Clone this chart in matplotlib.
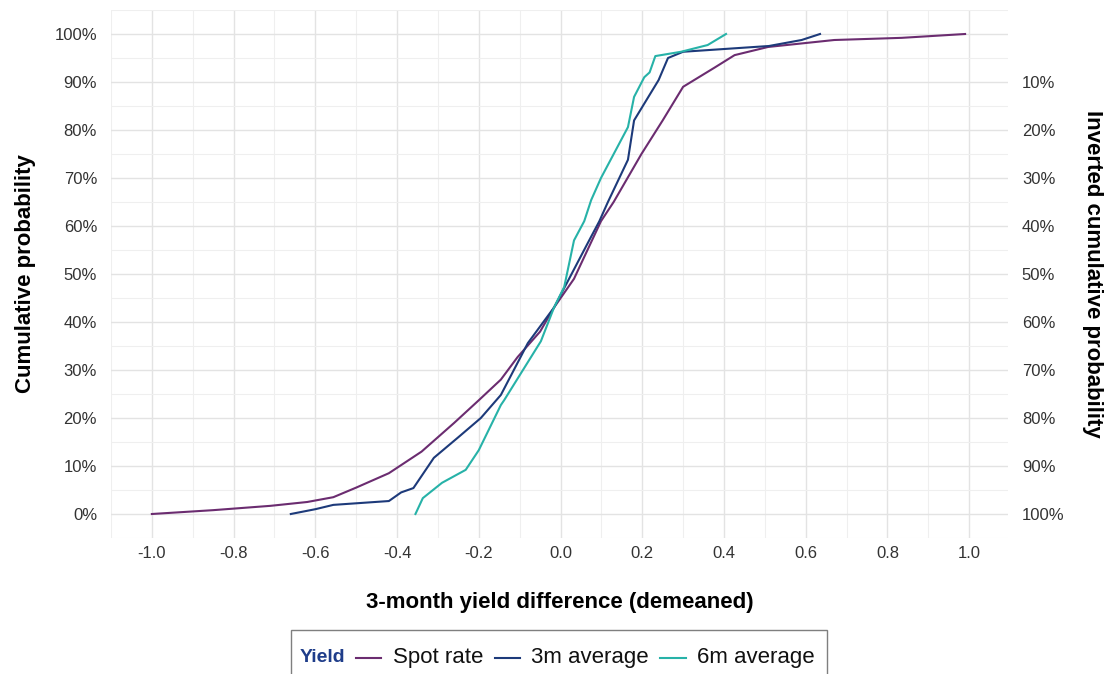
import matplotlib
matplotlib.use("Agg")
import matplotlib.pyplot as plt
from matplotlib.ticker import MultipleLocator, FixedLocator
from matplotlib.lines import Line2D
from matplotlib.patches import Rectangle

# ---- data ----
spot_x = [-1.0, -0.85, -0.71, -0.62, -0.556, -0.5, -0.42, -0.34, -0.26, -0.2,
          -0.146, -0.105, -0.05, -0.016, 0.033, 0.099, 0.13, 0.198, 0.25, 0.30,
          0.377, 0.426, 0.508, 0.67, 0.835, 0.99]
spot_y = [0, 0.8, 1.7, 2.5, 3.5, 5.5, 8.5, 13, 19, 23.7,
          28, 32.7, 38, 43, 49, 61, 65, 75, 82, 89,
          93, 95.6, 97.3, 98.75, 99.2, 100]

m3_x = [-0.66, -0.6, -0.556, -0.42, -0.39, -0.36, -0.31, -0.25, -0.195, -0.146,
        -0.08, -0.016, 0.067, 0.095, 0.116, 0.165, 0.18, 0.24, 0.263, 0.30,
        0.51, 0.59, 0.635]
m3_y = [0, 1.0, 1.9, 2.7, 4.5, 5.4, 11.7, 16, 20, 24.8,
        35.6, 43, 56.5, 61, 65, 73.8, 82, 90.4, 95, 96.3,
        97.5, 98.75, 100]

m6_x = [-0.355, -0.337, -0.29, -0.232, -0.2, -0.146, -0.138, -0.048, -0.016, 0.009,
        0.033, 0.058, 0.075, 0.099, 0.165, 0.18, 0.205, 0.218, 0.232, 0.295,
        0.36, 0.405]
m6_y = [0, 3.3, 6.5, 9.2, 13.3, 22.7, 23.7, 36, 43, 47.3,
        57, 61, 65.4, 70, 80.6, 86.9, 91, 92, 95.4, 96.3,
        97.7, 100]

series_names = ["Spot rate", "3m average", "6m average"]
colors = ["#6b2c70", "#1d3a7a", "#27b2a8"]

x_ticks = [-1.0, -0.8, -0.6, -0.4, -0.2, 0.0, 0.2, 0.4, 0.6, 0.8, 1.0]
left_ticks = [0, 10, 20, 30, 40, 50, 60, 70, 80, 90, 100]
right_ticks = [0, 10, 20, 30, 40, 50, 60, 70, 80, 90]
right_labels = ["100%", "90%", "80%", "70%", "60%", "50%", "40%", "30%", "20%", "10%"]

plt.rcParams['font.family'] = ['Liberation Sans', 'DejaVu Sans']

W, H = 1109, 674
fig = plt.figure(figsize=(W / 100, H / 100), dpi=100)
L, R, T, B = 111, 1008, 10, 538
ax = fig.add_axes([L / W, 1 - B / H, (R - L) / W, (B - T) / H])

for xs, ys, c in zip([spot_x, m3_x, m6_x], [spot_y, m3_y, m6_y], colors):
    ax.plot(xs, [v / 100 for v in ys], color=c, lw=1.5, solid_joinstyle='round')

ax.set_xlim(-1.1, 1.095)
ax.set_ylim(-0.05, 1.05)
ax.xaxis.set_major_locator(FixedLocator(x_ticks))
ax.xaxis.set_minor_locator(MultipleLocator(0.1))
ax.set_xticklabels([f"{v:.1f}" for v in x_ticks])
ax.yaxis.set_major_locator(FixedLocator([v / 100 for v in left_ticks]))
ax.yaxis.set_minor_locator(MultipleLocator(0.05))
ax.set_yticklabels([f"{v}%" for v in left_ticks])

ax.grid(which='major', color='#e3e3e3', lw=1.0)
ax.grid(which='minor', color='#efefef', lw=0.8)
ax.set_axisbelow(True)
for s in ax.spines.values():
    s.set_visible(False)
ax.tick_params(which='both', length=0, labelsize=12, labelcolor='#333333')
ax.tick_params(axis='x', pad=6)
ax.tick_params(axis='y', pad=10)

ax2 = ax.twinx()
ax2.set_ylim(-0.05, 1.05)
ax2.yaxis.set_major_locator(FixedLocator([v / 100 for v in right_ticks]))
ax2.set_yticklabels(right_labels)
for s in ax2.spines.values():
    s.set_visible(False)
ax2.tick_params(length=0, labelsize=12, labelcolor='#333333', pad=10)

ax.set_xlabel("3-month yield difference (demeaned)", fontsize=16, fontweight='bold', labelpad=22)
ax.set_ylabel("Cumulative probability", fontsize=16, fontweight='bold', labelpad=13)
ax2.set_ylabel("Inverted cumulative probability", fontsize=16, fontweight='bold',
               rotation=270, labelpad=28)

# ---- legend drawn manually (inline title) ----
def fx(px):
    return px / W

def fy(py):
    return 1 - py / H

fig.patches.append(Rectangle((fx(291), fy(690)), fx(827) - fx(291), fy(630) - fy(690),
                             transform=fig.transFigure, fill=False,
                             edgecolor='#7f7f7f', lw=1.0))
ly = 658
fig.text(fx(300), fy(ly), "Yield", fontsize=14, fontweight='bold', color='#1f3d8a',
         ha='left', va='center')
seg = [(356, 381, 393), (495, 520, 531), (660, 686, 697)]
for (x0, x1, xt), c, name in zip(seg, colors, series_names):
    fig.add_artist(Line2D([fx(x0), fx(x1)], [fy(ly), fy(ly)], color=c, lw=1.5,
                          transform=fig.transFigure))
    fig.text(fx(xt), fy(ly), name, fontsize=16, color='#111111', ha='left', va='center')

fig.savefig("out.png", dpi=100, facecolor='white')
